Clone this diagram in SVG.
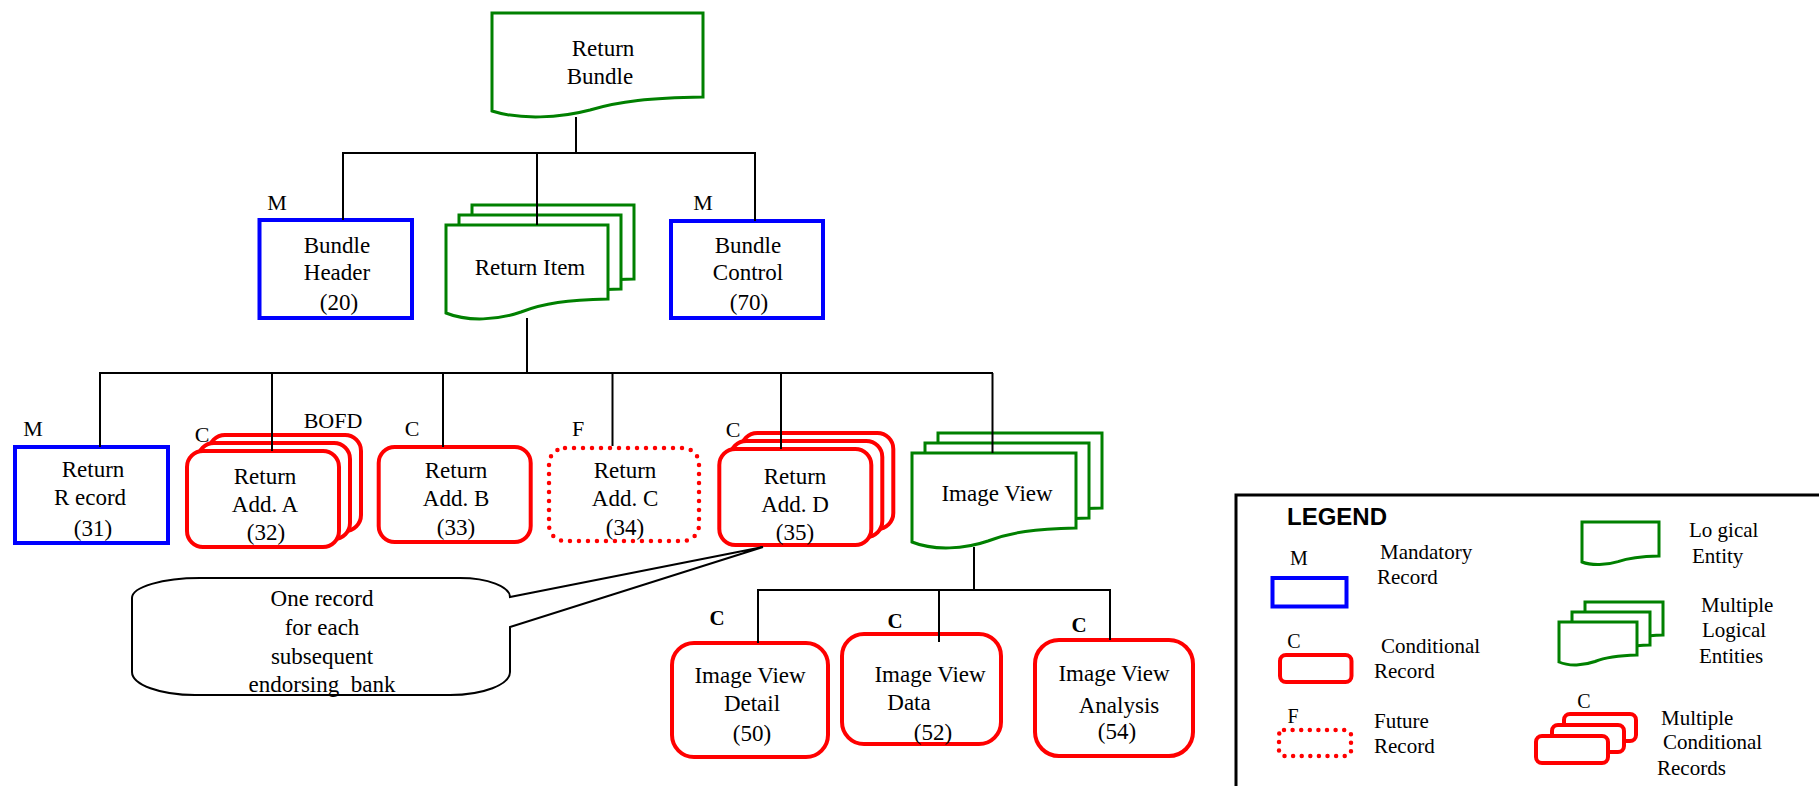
<svg xmlns="http://www.w3.org/2000/svg" width="1819" height="786" viewBox="0 0 1819 786" font-family="'Liberation Serif', 'Times New Roman', 'DejaVu Serif', serif">
<style>
svg text{font-family:'Liberation Serif','Times New Roman','DejaVu Serif',serif;fill:#000}
.t{font-size:23px;text-anchor:middle}
.lb{font-size:22px;text-anchor:middle}
.lbb{font-size:21px;text-anchor:middle;font-weight:bold}
.lg{font-size:21px}
.lgl{font-size:20px;text-anchor:middle}
svg text.hd{font-family:'Liberation Sans',Arial,sans-serif;font-weight:bold;font-size:24px}
.ent{fill:#fff;stroke:#008000;stroke-width:3;stroke-linejoin:miter}
.man{fill:#fff;stroke:#0000ff;stroke-width:4}
.cond{fill:#fff;stroke:#ff0000;stroke-width:4}
.fut{fill:#fff;stroke:#ff0000;stroke-width:4.5;stroke-dasharray:0 9;stroke-linecap:round}
.con{stroke:#000;stroke-width:2;fill:none}
.call{fill:#fff;stroke:#000;stroke-width:2}
</style>

<g id="return-bundle">
<path class="ent" d="M492,13 H703 V97 C650,98 620,101 590,110 C560,118 520,120 492,111 Z"/>
<text class="t" x="603" y="56">Return</text>
<text class="t" x="600" y="84">Bundle</text>
</g>

<g id="bundle-header">
<text class="lb" x="277" y="210">M</text>
<rect class="man" x="259.5" y="220" width="152.5" height="98"/>
<text class="t" x="337" y="253">Bundle</text>
<text class="t" x="337" y="280">Header</text>
<text class="t" x="339" y="310">(20)</text>
</g>

<g id="return-item">
<path class="ent" transform="translate(26,-20)" d="M446,225 H608 V299 C567,300 544,303 521,312 C498,320 468,322 446,313 Z"/>
<path class="ent" transform="translate(13,-10)" d="M446,225 H608 V299 C567,300 544,303 521,312 C498,320 468,322 446,313 Z"/>
<path class="ent" d="M446,225 H608 V299 C567,300 544,303 521,312 C498,320 468,322 446,313 Z"/>
<text class="t" x="530" y="275">Return Item</text>
</g>

<g id="bundle-control">
<text class="lb" x="703" y="210">M</text>
<rect class="man" x="671" y="221" width="152" height="97"/>
<text class="t" x="748" y="253">Bundle</text>
<text class="t" x="748" y="280">Control</text>
<text class="t" x="749" y="310">(70)</text>
</g>

<g id="return-record">
<text class="lb" x="33" y="436">M</text>
<rect class="man" x="15" y="447" width="153" height="96"/>
<text class="t" x="93" y="477">Return</text>
<text class="t" x="90" y="505">R ecord</text>
<text class="t" x="93" y="536">(31)</text>
</g>

<g id="return-add-a">
<text class="lb" x="202" y="442">C</text>
<text class="lb" x="333" y="428">BOFD</text>
<rect class="cond" x="209" y="435" width="152" height="96" rx="16"/>
<rect class="cond" x="198" y="443" width="152" height="96" rx="16"/>
<rect class="cond" x="187" y="451" width="152" height="96" rx="16"/>
<text class="t" x="265" y="484">Return</text>
<text class="t" x="265" y="512">Add. A</text>
<text class="t" x="266" y="540">(32)</text>
</g>

<g id="return-add-b">
<text class="lb" x="412" y="436">C</text>
<rect class="cond" x="378.7" y="447" width="152" height="95" rx="16"/>
<text class="t" x="456" y="478">Return</text>
<text class="t" x="456" y="506">Add. B</text>
<text class="t" x="456" y="535">(33)</text>
</g>

<g id="return-add-c">
<text class="lb" x="578" y="436">F</text>
<rect class="fut" x="549" y="448" width="150" height="93" rx="16"/>
<text class="t" x="625" y="478">Return</text>
<text class="t" x="625" y="506">Add. C</text>
<text class="t" x="625" y="535">(34)</text>
</g>

<g id="return-add-d">
<text class="lb" x="733" y="437">C</text>
<rect class="cond" x="741.3" y="433" width="152" height="96" rx="16"/>
<rect class="cond" x="730.3" y="441" width="152" height="96" rx="16"/>
<rect class="cond" x="719.3" y="449" width="152" height="96" rx="16"/>
<text class="t" x="795" y="484">Return</text>
<text class="t" x="795" y="512">Add. D</text>
<text class="t" x="795" y="540">(35)</text>
</g>

<g id="image-view">
<path class="ent" transform="translate(26,-20)" d="M912,453 H1076 V528 C1035,529 1011,532 988,541 C965,549 934,551 912,542 Z"/>
<path class="ent" transform="translate(13,-10)" d="M912,453 H1076 V528 C1035,529 1011,532 988,541 C965,549 934,551 912,542 Z"/>
<path class="ent" d="M912,453 H1076 V528 C1035,529 1011,532 988,541 C965,549 934,551 912,542 Z"/>
<text class="t" x="997" y="501">Image View</text>
</g>

<g id="callout">
<path class="call" d="M200,578 H460 A50,19 0 0 1 510,597 L763,547 L510,627 V672 A60,23 0 0 1 450,695 H195 A63,23 0 0 1 132,672 V598 A68,20 0 0 1 200,578 Z"/>
<text class="t" x="322" y="606">One record</text>
<text class="t" x="322" y="635">for each</text>
<text class="t" x="322" y="664">subsequent</text>
<text class="t" x="322" y="692" xml:space="preserve">endorsing  bank</text>
</g>

<g id="image-view-detail">
<text class="lbb" x="717" y="625">C</text>
<rect class="cond" x="672" y="643" width="156" height="114" rx="22"/>
<text class="t" x="750" y="683">Image View</text>
<text class="t" x="752" y="711">Detail</text>
<text class="t" x="752" y="741">(50)</text>
</g>

<g id="image-view-data">
<text class="lbb" x="895" y="628">C</text>
<rect class="cond" x="842" y="634" width="159" height="110" rx="22"/>
<text class="t" x="930" y="682">Image View</text>
<text class="t" x="909" y="710">Data</text>
<text class="t" x="933" y="740">(52)</text>
</g>

<g id="image-view-analysis">
<text class="lbb" x="1079" y="632">C</text>
<rect class="cond" x="1035" y="640" width="158" height="116" rx="24"/>
<text class="t" x="1114" y="681">Image View</text>
<text class="t" x="1119" y="713">Analysis</text>
<text class="t" x="1117" y="739">(54)</text>
</g>

<g id="connectors">
<line class="con" x1="576" y1="117" x2="576" y2="153"/>
<line class="con" x1="342" y1="153" x2="756" y2="153"/>
<line class="con" x1="343" y1="153" x2="343" y2="220"/>
<line class="con" x1="537" y1="153" x2="537" y2="225"/>
<line class="con" x1="755" y1="153" x2="755" y2="221"/>
<line class="con" x1="527" y1="318" x2="527" y2="373"/>
<line class="con" x1="99" y1="373" x2="993" y2="373"/>
<line class="con" x1="100" y1="373" x2="100" y2="447"/>
<line class="con" x1="272" y1="373" x2="272" y2="451"/>
<line class="con" x1="443" y1="373" x2="443" y2="447"/>
<line class="con" x1="612.5" y1="373" x2="612.5" y2="446"/>
<line class="con" x1="781" y1="373" x2="781" y2="449"/>
<line class="con" x1="992.5" y1="373" x2="992.5" y2="453"/>
<line class="con" x1="974" y1="547" x2="974" y2="590"/>
<line class="con" x1="757" y1="590" x2="1111" y2="590"/>
<line class="con" x1="758" y1="590" x2="758" y2="643"/>
<line class="con" x1="939" y1="590" x2="939" y2="642"/>
<line class="con" x1="1110" y1="590" x2="1110" y2="640"/>
</g>

<g id="legend">
<rect x="1236" y="495" width="700" height="400" fill="#fff" stroke="#000" stroke-width="3"/>
<text class="hd" x="1287" y="525" font-family="'Liberation Sans', Arial, sans-serif">LEGEND</text>
<text class="lgl" x="1299" y="565">M</text>
<rect class="man" x="1272.5" y="578" width="74" height="28.5"/>
<text class="lg" x="1380" y="559">Mandatory</text>
<text class="lg" x="1377" y="584">Record</text>
<text class="lgl" x="1294" y="648">C</text>
<rect class="cond" x="1280" y="655" width="71.5" height="27" rx="6"/>
<text class="lg" x="1381" y="653">Conditional</text>
<text class="lg" x="1374" y="678">Record</text>
<text class="lgl" x="1293" y="723">F</text>
<rect class="fut" x="1279" y="730" width="72" height="26" rx="5" style="stroke-dasharray:0 8.6"/>
<text class="lg" x="1374" y="728">Future</text>
<text class="lg" x="1374" y="753">Record</text>
<path class="ent" d="M1582,522 H1659 V556 C1640,556.4 1629,557.7 1618,561.6 C1607,565 1592,566 1582,562 Z"/>
<text class="lg" x="1689" y="537">Lo gical</text>
<text class="lg" x="1692" y="563">Entity</text>
<path class="ent" transform="translate(26,-20)" d="M1559,622 H1637 V655 C1617,655.5 1606,657 1595,661.5 C1584,665.5 1569,666.5 1559,662 Z"/>
<path class="ent" transform="translate(13,-10)" d="M1559,622 H1637 V655 C1617,655.5 1606,657 1595,661.5 C1584,665.5 1569,666.5 1559,662 Z"/>
<path class="ent" d="M1559,622 H1637 V655 C1617,655.5 1606,657 1595,661.5 C1584,665.5 1569,666.5 1559,662 Z"/>
<text class="lg" x="1701" y="612">Multiple</text>
<text class="lg" x="1702" y="637">Logical</text>
<text class="lg" x="1699" y="663">Entities</text>
<text class="lgl" x="1584" y="708">C</text>
<rect class="cond" x="1564" y="714" width="72" height="27" rx="6"/>
<rect class="cond" x="1552" y="725" width="72" height="27" rx="6"/>
<rect class="cond" x="1536" y="736" width="72" height="27" rx="6"/>
<text class="lg" x="1661" y="725">Multiple</text>
<text class="lg" x="1663" y="749">Conditional</text>
<text class="lg" x="1657" y="775">Records</text>
</g>
</svg>
